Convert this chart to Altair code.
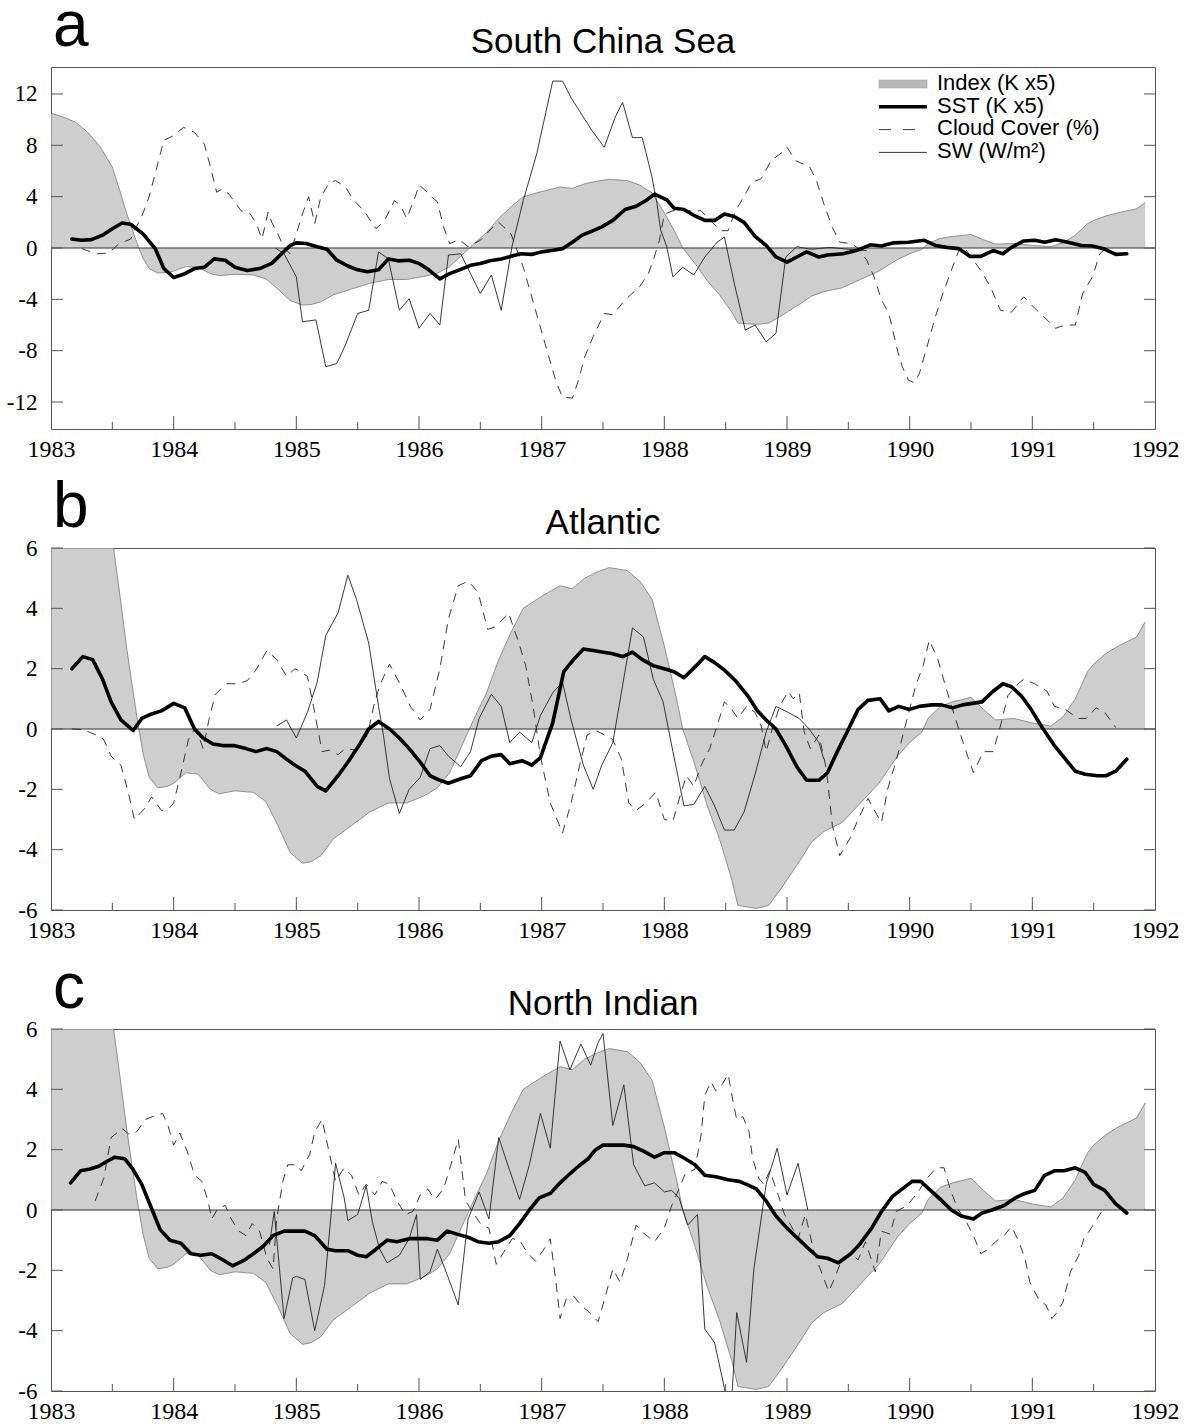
import altair as alt
import pandas as pd

# ---------------- data ----------------
YEARS = [1983, 1984, 1985, 1986, 1987, 1988, 1989, 1990, 1991, 1992]
HALF_YEARS = [1983.5, 1984.5, 1985.5, 1986.5, 1987.5, 1988.5, 1989.5, 1990.5, 1991.5]
TICKS_A = [-12, -8, -4, 0, 4, 8, 12]
TICKS_BC = [-6, -4, -2, 0, 2, 4, 6]

# Index (K x5), the same index is shown in all three panels
INDEX = [(1983.00, 10.5), (1983.10, 10.2), (1983.20, 9.8), (1983.30, 9.0), (1983.40, 7.9),
         (1983.50, 6.3), (1983.55, 4.8), (1983.62, 2.6), (1983.70, 0.4), (1983.75, -0.8),
         (1983.80, -1.6), (1983.87, -1.95), (1983.95, -1.9), (1984.00, -1.8), (1984.10, -1.45),
         (1984.20, -1.5), (1984.30, -2.0), (1984.37, -2.15), (1984.50, -2.05), (1984.65, -2.1),
         (1984.75, -2.4), (1984.85, -3.2), (1984.95, -4.1), (1985.05, -4.45), (1985.12, -4.4),
         (1985.20, -4.2), (1985.30, -3.65), (1985.45, -3.2), (1985.60, -2.75), (1985.75, -2.45),
         (1985.90, -2.45), (1986.05, -2.2), (1986.15, -1.95), (1986.25, -1.45), (1986.35, -0.55),
         (1986.45, 0.35), (1986.55, 1.2), (1986.65, 2.3), (1986.75, 3.2), (1986.85, 4.0),
         (1987.00, 4.4), (1987.15, 4.75), (1987.25, 4.65), (1987.35, 5.0), (1987.45, 5.2),
         (1987.55, 5.35), (1987.70, 5.25), (1987.80, 4.9), (1987.90, 4.3), (1988.00, 2.75),
         (1988.10, 1.0), (1988.15, 0.0), (1988.25, -1.2), (1988.35, -2.55), (1988.45, -3.65),
         (1988.55, -5.0), (1988.60, -5.85), (1988.75, -5.95), (1988.85, -5.85), (1988.95, -5.3),
         (1989.10, -4.4), (1989.20, -3.75), (1989.30, -3.4), (1989.45, -3.1), (1989.60, -2.45),
         (1989.75, -1.8), (1989.90, -0.9), (1990.00, -0.45), (1990.10, -0.1), (1990.15, 0.35),
         (1990.25, 0.75), (1990.35, 0.9), (1990.50, 1.05), (1990.60, 0.65), (1990.70, 0.3),
         (1990.85, 0.35), (1991.00, 0.2), (1991.15, 0.1), (1991.25, 0.4), (1991.35, 1.0),
         (1991.45, 1.9), (1991.50, 2.15), (1991.60, 2.5), (1991.70, 2.75), (1991.85, 3.05),
         (1991.92, 3.55)]

# ---- panel a: South China Sea ----
A_SST = [(1983.17, 0.7), (1983.25, 0.6), (1983.33, 0.65), (1983.42, 1.0), (1983.5, 1.5),
         (1983.58, 1.95), (1983.65, 1.85), (1983.75, 1.1), (1983.85, -0.05), (1983.92, -1.6),
         (1984.0, -2.3), (1984.08, -2.05), (1984.17, -1.6), (1984.25, -1.5), (1984.33, -0.85),
         (1984.42, -0.95), (1984.5, -1.5), (1984.6, -1.75), (1984.7, -1.6), (1984.8, -1.2),
         (1984.88, -0.45), (1984.95, 0.2), (1985.0, 0.4), (1985.08, 0.35), (1985.17, 0.1),
         (1985.25, -0.1), (1985.33, -0.95), (1985.42, -1.4), (1985.5, -1.7), (1985.58, -1.85),
         (1985.67, -1.7), (1985.75, -0.85), (1985.83, -1.0), (1985.92, -0.95), (1986.0, -1.2),
         (1986.08, -1.7), (1986.17, -2.4), (1986.25, -2.0), (1986.33, -1.7), (1986.42, -1.35),
         (1986.5, -1.2), (1986.58, -1.0), (1986.67, -0.85), (1986.75, -0.65), (1986.83, -0.45),
         (1986.92, -0.5), (1987.0, -0.3), (1987.08, -0.2), (1987.17, -0.05), (1987.25, 0.45),
         (1987.33, 1.0), (1987.42, 1.35), (1987.49, 1.65), (1987.58, 2.15), (1987.68, 3.0),
         (1987.77, 3.25), (1987.85, 3.7), (1987.92, 4.2), (1988.02, 3.75), (1988.08, 3.1),
         (1988.16, 3.0), (1988.24, 2.55), (1988.33, 2.15), (1988.41, 2.15), (1988.49, 2.65),
         (1988.57, 2.45), (1988.65, 2.0), (1988.74, 0.9), (1988.83, 0.2), (1988.91, -0.7),
         (1989.0, -1.1), (1989.08, -0.7), (1989.16, -0.3), (1989.26, -0.7), (1989.33, -0.55),
         (1989.46, -0.45), (1989.58, -0.15), (1989.68, 0.25), (1989.77, 0.15), (1989.87, 0.4),
         (1989.99, 0.45), (1990.12, 0.6), (1990.21, 0.2), (1990.30, 0.05), (1990.40, -0.05),
         (1990.49, -0.65), (1990.58, -0.65), (1990.68, -0.2), (1990.76, -0.45), (1990.83, 0.05),
         (1990.93, 0.55), (1991.02, 0.6), (1991.10, 0.45), (1991.19, 0.65), (1991.29, 0.45),
         (1991.40, 0.2), (1991.49, 0.15), (1991.58, -0.05), (1991.68, -0.5), (1991.77, -0.45)]

A_CLOUD = [(1983.25, -0.05), (1983.37, -0.45), (1983.47, -0.4), (1983.55, 0.3), (1983.65, 0.7),
           (1983.75, 2.7), (1983.8, 4.0), (1983.87, 6.55), (1983.92, 8.4), (1984.0, 8.75),
           (1984.08, 9.4), (1984.17, 9.0), (1984.25, 8.1), (1984.3, 6.3), (1984.35, 4.35),
           (1984.4, 4.6), (1984.45, 4.2), (1984.55, 2.9), (1984.62, 2.7), (1984.67, 2.0),
           (1984.72, 0.7), (1984.77, 2.8), (1984.8, 2.0), (1984.85, 1.1), (1984.9, 0.0),
           (1984.95, -0.45), (1985.05, 2.65), (1985.1, 4.0), (1985.15, 1.9), (1985.2, 4.0),
           (1985.27, 5.1), (1985.32, 5.25), (1985.4, 4.75), (1985.47, 3.7), (1985.55, 2.9),
           (1985.65, 1.5), (1985.72, 2.15), (1985.8, 3.7), (1985.85, 3.3), (1985.9, 2.3),
           (1985.97, 4.0), (1986.0, 4.9), (1986.05, 4.5), (1986.1, 4.0), (1986.15, 3.6),
           (1986.2, 1.65), (1986.25, 0.35), (1986.33, 0.65), (1986.4, 0.1), (1986.5, 0.6),
           (1986.6, 1.6), (1986.65, 2.0), (1986.75, 1.1), (1986.85, -1.5), (1986.95, -4.85),
           (1987.05, -8.2), (1987.12, -10.5), (1987.17, -11.6), (1987.25, -11.7), (1987.3, -10.3),
           (1987.35, -8.5), (1987.42, -6.9), (1987.51, -5.1), (1987.58, -5.2), (1987.68, -4.05),
           (1987.8, -3.0), (1987.87, -2.0), (1987.91, -0.95), (1987.96, 0.6), (1988.0, 2.65),
           (1988.07, 2.9), (1988.18, 2.9), (1988.3, 2.9), (1988.4, 1.9), (1988.46, 1.35),
           (1988.52, 1.35), (1988.58, 2.9), (1988.65, 4.0), (1988.71, 5.1), (1988.79, 5.4),
           (1988.87, 6.8), (1988.96, 7.45), (1989.0, 7.85), (1989.07, 6.8), (1989.13, 6.55),
           (1989.18, 6.4), (1989.24, 5.25), (1989.3, 3.45), (1989.37, 1.6), (1989.43, 0.45),
           (1989.52, 0.35), (1989.58, 0.0), (1989.65, -0.95), (1989.71, -2.25), (1989.77, -4.05),
           (1989.83, -5.1), (1989.9, -7.95), (1989.94, -9.25), (1989.99, -10.3), (1990.04, -10.5),
           (1990.08, -9.75), (1990.15, -7.4), (1990.21, -5.35), (1990.27, -3.55), (1990.33, -2.0),
           (1990.4, -0.2), (1990.44, 0.1), (1990.52, -0.95), (1990.58, -1.75), (1990.66, -3.05),
           (1990.74, -4.85), (1990.83, -5.0), (1990.93, -3.8), (1991.02, -4.7), (1991.12, -5.6),
           (1991.19, -6.25), (1991.27, -6.0), (1991.35, -6.0), (1991.41, -3.55), (1991.49, -2.25),
           (1991.55, -0.45), (1991.6, 0.0)]

A_SW = [(1984.83, 0.0), (1984.9, -0.45), (1985.0, -2.25), (1985.05, -5.75), (1985.16, -5.6),
        (1985.24, -9.25), (1985.33, -9.0), (1985.4, -7.55), (1985.5, -5.1), (1985.59, -4.85),
        (1985.67, -0.3), (1985.75, -0.85), (1985.84, -4.85), (1985.92, -3.95), (1986.0, -6.25),
        (1986.09, -5.1), (1986.17, -6.0), (1986.24, -0.55), (1986.34, -0.45), (1986.5, -3.55),
        (1986.59, -2.1), (1986.67, -4.85), (1986.76, 0.2), (1986.85, 3.7), (1986.96, 7.35),
        (1987.09, 13.0), (1987.17, 13.0), (1987.24, 11.7), (1987.34, 10.2), (1987.41, 9.15),
        (1987.51, 7.85), (1987.6, 10.2), (1987.66, 11.35), (1987.74, 8.6), (1987.82, 8.6),
        (1987.9, 5.5), (1987.94, 3.45), (1987.97, 1.4), (1988.02, 0.1), (1988.07, -2.25),
        (1988.15, -1.5), (1988.24, -2.1), (1988.33, -0.7), (1988.43, 0.45), (1988.49, 0.85),
        (1988.57, -2.75), (1988.66, -6.4), (1988.74, -6.0), (1988.83, -7.3), (1988.91, -6.65),
        (1988.99, -0.7), (1989.08, 0.1), (1989.2, -0.1), (1989.35, 0.05), (1989.5, -0.1),
        (1989.65, -0.2)]

# ---- panel b: Atlantic ----
B_SST = [(1983.17, 2.0), (1983.26, 2.4), (1983.34, 2.3), (1983.42, 1.65), (1983.49, 0.9),
         (1983.57, 0.3), (1983.67, -0.05), (1983.74, 0.35), (1983.82, 0.5), (1983.9, 0.6),
         (1984.0, 0.85), (1984.09, 0.7), (1984.17, 0.0), (1984.24, -0.3), (1984.32, -0.5),
         (1984.4, -0.55), (1984.49, -0.55), (1984.59, -0.65), (1984.67, -0.75), (1984.76, -0.65),
         (1984.84, -0.75), (1984.92, -1.0), (1984.99, -1.2), (1985.07, -1.4), (1985.17, -1.9),
         (1985.24, -2.05), (1985.34, -1.55), (1985.42, -1.1), (1985.51, -0.55), (1985.59, 0.0),
         (1985.67, 0.25), (1985.76, 0.0), (1985.84, -0.3), (1985.92, -0.65), (1986.01, -1.1),
         (1986.09, -1.55), (1986.17, -1.7), (1986.24, -1.8), (1986.34, -1.65), (1986.42, -1.55),
         (1986.51, -1.05), (1986.59, -0.9), (1986.67, -0.85), (1986.74, -1.15), (1986.84, -1.05),
         (1986.92, -1.2), (1986.99, -0.95), (1987.09, 0.2), (1987.18, 1.9), (1987.26, 2.3),
         (1987.34, 2.65), (1987.42, 2.6), (1987.49, 2.55), (1987.57, 2.5), (1987.66, 2.4),
         (1987.74, 2.55), (1987.82, 2.3), (1987.91, 2.1), (1988.0, 2.0), (1988.08, 1.9),
         (1988.16, 1.7), (1988.26, 2.1), (1988.33, 2.4), (1988.41, 2.2), (1988.49, 1.95),
         (1988.58, 1.6), (1988.68, 1.1), (1988.76, 0.6), (1988.83, 0.3), (1988.91, 0.0),
         (1988.99, -0.55), (1989.08, -1.25), (1989.16, -1.7), (1989.26, -1.7), (1989.33, -1.45),
         (1989.41, -0.75), (1989.49, -0.1), (1989.58, 0.65), (1989.66, 0.95), (1989.76, 1.0),
         (1989.83, 0.6), (1989.91, 0.75), (1990.0, 0.65), (1990.08, 0.75), (1990.18, 0.8),
         (1990.26, 0.8), (1990.35, 0.7), (1990.43, 0.8), (1990.51, 0.85), (1990.59, 0.9),
         (1990.68, 1.25), (1990.76, 1.5), (1990.83, 1.4), (1990.91, 1.1), (1990.99, 0.65),
         (1991.08, 0.05), (1991.18, -0.55), (1991.26, -0.95), (1991.35, -1.4), (1991.43, -1.5),
         (1991.53, -1.55), (1991.6, -1.55), (1991.68, -1.4), (1991.77, -1.0)]

B_CLOUD = [(1983.17, 0.0), (1983.26, -0.02), (1983.37, -0.2), (1983.43, -0.35), (1983.49, -0.9),
           (1983.57, -1.2), (1983.63, -2.1), (1983.68, -3.0), (1983.76, -2.65), (1983.82, -2.25),
           (1983.9, -2.7), (1983.96, -2.65), (1984.0, -2.45), (1984.06, -1.45), (1984.12, -0.35),
           (1984.17, 0.0), (1984.21, -0.3), (1984.24, -0.65), (1984.29, 0.35), (1984.34, 1.15),
           (1984.43, 1.5), (1984.52, 1.5), (1984.6, 1.6), (1984.67, 1.95), (1984.76, 2.6),
           (1984.84, 2.3), (1984.92, 1.75), (1984.99, 2.0), (1985.09, 1.75), (1985.14, 0.75),
           (1985.21, -0.75), (1985.27, -0.7), (1985.34, -0.85), (1985.4, -0.65), (1985.49, -0.7),
           (1985.58, -0.2), (1985.63, 0.75), (1985.68, 1.45), (1985.76, 2.15), (1985.85, 1.45),
           (1985.93, 0.75), (1986.01, 0.3), (1986.09, 0.65), (1986.17, 2.0), (1986.24, 3.65),
           (1986.32, 4.75), (1986.4, 4.9), (1986.48, 4.55), (1986.56, 3.3), (1986.63, 3.4),
           (1986.73, 3.85), (1986.81, 2.9), (1986.87, 2.1), (1986.93, 0.75), (1986.99, -0.9),
           (1987.07, -2.45), (1987.17, -3.45), (1987.24, -2.45), (1987.31, -1.2), (1987.37, -0.2),
           (1987.44, -0.05), (1987.49, -0.15), (1987.58, -0.35), (1987.65, -1.0), (1987.71, -2.45),
           (1987.77, -2.7), (1987.85, -2.45), (1987.93, -2.1), (1988.0, -3.0), (1988.07, -3.05),
           (1988.13, -2.2), (1988.18, -1.55), (1988.24, -1.9), (1988.3, -1.2), (1988.37, -0.65),
           (1988.43, 0.1), (1988.49, 0.9), (1988.55, 0.65), (1988.6, 0.35), (1988.67, 0.75),
           (1988.74, 0.55), (1988.79, 0.1), (1988.83, -0.75), (1988.88, 0.0), (1988.94, 0.75),
           (1989.01, 1.25), (1989.05, 1.0), (1989.1, 1.2), (1989.14, -0.1), (1989.19, -0.65),
           (1989.26, -0.2), (1989.32, -1.3), (1989.37, -3.2), (1989.43, -4.2), (1989.51, -3.65),
           (1989.58, -3.0), (1989.66, -2.3), (1989.72, -2.75), (1989.77, -3.1), (1989.82, -2.0),
           (1989.9, -0.9), (1989.98, 0.35), (1990.05, 1.45), (1990.11, 2.1), (1990.16, 2.95),
           (1990.23, 2.3), (1990.29, 1.45), (1990.35, 0.65), (1990.4, 0.0), (1990.46, -0.75),
           (1990.52, -1.45), (1990.6, -0.75), (1990.68, -0.75), (1990.74, 0.1), (1990.8, 1.1),
           (1990.87, 1.45), (1990.93, 1.65), (1991.02, 1.5), (1991.12, 1.25), (1991.18, 0.75),
           (1991.27, 0.65), (1991.37, 0.35), (1991.44, 0.35), (1991.52, 0.7), (1991.59, 0.55),
           (1991.68, 0.05)]

B_SW = [(1984.84, 0.1), (1984.92, 0.3), (1985.0, -0.3), (1985.09, 0.55), (1985.17, 1.55),
        (1985.24, 3.1), (1985.34, 3.85), (1985.42, 5.1), (1985.49, 4.3), (1985.59, 2.85),
        (1985.67, 0.75), (1985.71, -0.2), (1985.76, -1.65), (1985.84, -2.8), (1985.92, -2.0),
        (1986.01, -1.6), (1986.09, -0.65), (1986.17, -0.55), (1986.24, -0.9), (1986.34, -1.25),
        (1986.42, -0.75), (1986.49, 0.35), (1986.59, 1.15), (1986.67, 0.75), (1986.74, -0.45),
        (1986.82, -0.1), (1986.92, -0.45), (1986.99, 0.45), (1987.09, 1.2), (1987.17, 1.55),
        (1987.24, 0.3), (1987.34, -1.2), (1987.42, -2.0), (1987.49, -1.2), (1987.58, -0.45),
        (1987.66, 1.45), (1987.74, 3.35), (1987.83, 3.05), (1987.91, 1.65), (1987.99, 0.9),
        (1988.07, -0.75), (1988.16, -2.55), (1988.24, -2.5), (1988.33, -1.9), (1988.41, -2.55),
        (1988.49, -3.35), (1988.57, -3.35), (1988.65, -2.75), (1988.74, -1.5), (1988.83, -0.1),
        (1988.91, 0.75), (1989.01, 0.55), (1989.1, 0.35), (1989.18, 0.0), (1989.26, -0.45),
        (1989.3, -1.0)]

# ---- panel c: North Indian ----
C_SST = [(1983.16, 0.9), (1983.24, 1.3), (1983.31, 1.35), (1983.39, 1.45), (1983.45, 1.6),
         (1983.52, 1.75), (1983.6, 1.7), (1983.66, 1.4), (1983.74, 0.85), (1983.81, 0.15),
         (1983.89, -0.65), (1983.97, -1.0), (1984.06, -1.1), (1984.14, -1.45), (1984.22, -1.5),
         (1984.31, -1.45), (1984.4, -1.65), (1984.48, -1.85), (1984.58, -1.65), (1984.65, -1.45),
         (1984.73, -1.2), (1984.81, -0.85), (1984.9, -0.7), (1985.0, -0.7), (1985.07, -0.7),
         (1985.15, -0.85), (1985.25, -1.3), (1985.32, -1.35), (1985.42, -1.35), (1985.5, -1.5),
         (1985.57, -1.55), (1985.65, -1.3), (1985.74, -1.0), (1985.82, -1.05), (1985.92, -0.95),
         (1985.99, -0.95), (1986.07, -0.95), (1986.15, -1.0), (1986.23, -0.7), (1986.31, -0.8),
         (1986.4, -0.9), (1986.48, -1.05), (1986.57, -1.1), (1986.65, -1.05), (1986.74, -0.85),
         (1986.82, -0.45), (1986.9, 0.0), (1986.98, 0.4), (1987.07, 0.55), (1987.15, 0.9),
         (1987.23, 1.2), (1987.3, 1.45), (1987.38, 1.7), (1987.44, 2.0), (1987.5, 2.15),
         (1987.58, 2.15), (1987.67, 2.15), (1987.75, 2.1), (1987.83, 1.95), (1987.92, 1.75),
         (1988.0, 1.9), (1988.08, 1.9), (1988.17, 1.7), (1988.25, 1.5), (1988.33, 1.15),
         (1988.42, 1.1), (1988.52, 1.0), (1988.61, 0.95), (1988.67, 0.85), (1988.75, 0.7),
         (1988.83, 0.3), (1988.91, -0.2), (1989.0, -0.6), (1989.09, -0.95), (1989.18, -1.3),
         (1989.25, -1.55), (1989.33, -1.6), (1989.42, -1.75), (1989.52, -1.45), (1989.59, -1.15),
         (1989.69, -0.6), (1989.77, -0.05), (1989.86, 0.45), (1989.94, 0.7), (1990.02, 0.95),
         (1990.09, 0.95), (1990.17, 0.65), (1990.25, 0.35), (1990.34, 0.0), (1990.42, -0.2),
         (1990.52, -0.3), (1990.59, -0.1), (1990.67, 0.0), (1990.77, 0.15), (1990.86, 0.4),
         (1990.94, 0.55), (1991.02, 0.65), (1991.1, 1.15), (1991.18, 1.3), (1991.26, 1.3),
         (1991.35, 1.4), (1991.43, 1.25), (1991.5, 0.85), (1991.59, 0.65), (1991.68, 0.2),
         (1991.77, -0.1)]

C_CLOUD = [(1983.36, 0.3), (1983.43, 1.05), (1983.49, 2.4), (1983.58, 2.7), (1983.64, 2.5),
           (1983.7, 2.6), (1983.77, 3.0), (1983.83, 3.1), (1983.91, 3.2), (1983.95, 2.85),
           (1984.0, 2.15), (1984.05, 2.55), (1984.11, 1.95), (1984.17, 1.15), (1984.23, 0.95),
           (1984.28, 0.3), (1984.31, -0.3), (1984.36, 0.05), (1984.42, 0.15), (1984.47, -0.3),
           (1984.53, -0.7), (1984.59, -0.85), (1984.64, -0.45), (1984.7, -0.7), (1984.76, -1.6),
           (1984.81, -1.95), (1984.84, -0.3), (1984.89, 0.95), (1984.93, 1.5), (1985.0, 1.5),
           (1985.04, 1.3), (1985.11, 1.85), (1985.15, 2.6), (1985.21, 3.0), (1985.26, 2.05),
           (1985.32, 0.95), (1985.39, 1.4), (1985.45, 1.15), (1985.51, 0.5), (1985.57, 0.85),
           (1985.64, 0.5), (1985.7, 0.95), (1985.76, 0.85), (1985.82, 0.3), (1985.89, -0.15),
           (1985.95, -0.05), (1986.01, 0.5), (1986.07, 0.7), (1986.13, 0.35), (1986.2, 0.7),
           (1986.26, 1.5), (1986.32, 2.35), (1986.38, 0.3), (1986.45, -0.15), (1986.51, -0.5),
           (1986.57, -0.6), (1986.63, -1.8), (1986.69, -1.4), (1986.76, -0.95), (1986.82, -1.0),
           (1986.88, -1.4), (1986.95, -1.7), (1987.01, -1.35), (1987.07, -0.95), (1987.12, -2.5),
           (1987.15, -3.6), (1987.2, -2.95), (1987.26, -2.85), (1987.32, -3.15), (1987.39, -3.4),
           (1987.46, -3.7), (1987.52, -2.85), (1987.58, -1.95), (1987.64, -2.4), (1987.7, -1.6),
           (1987.77, -0.5), (1987.84, -0.8), (1987.92, -1.05), (1988.0, -0.6), (1988.06, 0.15),
           (1988.12, 0.7), (1988.17, 1.2), (1988.25, 1.35), (1988.3, 2.5), (1988.33, 3.8),
           (1988.38, 4.25), (1988.42, 3.95), (1988.47, 4.15), (1988.52, 4.5), (1988.56, 3.6),
           (1988.59, 3.0), (1988.64, 3.1), (1988.69, 2.6), (1988.72, 1.7), (1988.77, 1.05),
           (1988.81, 0.85), (1988.86, 1.3), (1988.92, 0.6), (1988.98, -0.15), (1989.03, -0.5),
           (1989.09, -0.95), (1989.15, -0.15), (1989.22, -1.4), (1989.28, -2.05), (1989.34, -2.7),
           (1989.39, -2.25), (1989.45, -1.6), (1989.52, -1.45), (1989.58, -1.65), (1989.64, -1.05),
           (1989.72, -2.05), (1989.77, -0.7), (1989.84, -0.8), (1989.89, -0.05), (1989.98, 0.15),
           (1990.07, 0.6), (1990.14, 1.05), (1990.22, 1.4), (1990.28, 1.4), (1990.33, 0.7),
           (1990.39, 0.05), (1990.45, -0.3), (1990.52, -0.85), (1990.58, -1.45), (1990.64, -1.3),
           (1990.7, -1.05), (1990.77, -0.85), (1990.83, -0.55), (1990.89, -1.05), (1990.94, -1.6),
           (1990.98, -2.4), (1991.05, -2.95), (1991.11, -3.15), (1991.16, -3.6), (1991.2, -3.4),
           (1991.25, -3.05), (1991.31, -2.05), (1991.38, -1.5), (1991.42, -0.95), (1991.48, -0.6),
           (1991.55, -0.15), (1991.6, 0.15)]

C_SW = [(1984.78, -1.15), (1984.82, -0.05), (1984.9, -3.6), (1984.97, -2.25), (1985.0, -2.2),
        (1985.07, -2.3), (1985.15, -4.0), (1985.23, -2.5), (1985.28, -0.3), (1985.32, 1.55),
        (1985.39, 0.4), (1985.42, -0.35), (1985.5, -0.15), (1985.57, 0.8), (1985.62, -0.4),
        (1985.68, -1.3), (1985.74, -1.75), (1985.84, -1.5), (1985.92, -0.95), (1985.98, -0.15),
        (1986.01, -2.3), (1986.09, -2.05), (1986.15, -1.3), (1986.23, -2.15), (1986.32, -3.15),
        (1986.4, -0.3), (1986.49, 0.6), (1986.57, -0.3), (1986.65, 2.4), (1986.74, 1.3),
        (1986.82, 0.35), (1986.9, 1.5), (1986.99, 3.2), (1987.07, 2.05), (1987.15, 5.6),
        (1987.23, 4.65), (1987.32, 5.5), (1987.4, 4.8), (1987.46, 5.55), (1987.5, 5.85),
        (1987.58, 2.8), (1987.67, 4.15), (1987.75, 1.5), (1987.84, 0.8), (1987.92, 0.9),
        (1988.0, 0.6), (1988.06, 0.65), (1988.12, 0.4), (1988.19, -0.5), (1988.27, -0.15),
        (1988.33, -3.95), (1988.41, -4.4), (1988.5, -6.1), (1988.55, -6.25), (1988.59, -3.4),
        (1988.67, -5.05), (1988.73, -1.95), (1988.83, 0.85), (1988.92, 2.05), (1989.0, 0.5),
        (1989.09, 1.55), (1989.17, 0.0)]

LEGEND_LABELS = ["Index (K x5)", "SST (K x5)", "Cloud Cover (%)", "SW (W/m²)"]

# ---------------- styling ----------------
W, H = 1104, 362
SANS = "Liberation Sans"
SERIF = "Liberation Serif"
FILL = "#b9b9b9"
FRAME = "#555555"


def frame(pairs):
    return pd.DataFrame(pairs, columns=["t", "v"])


ONE = pd.DataFrame({"k": [0]})


def panel(sst, cloud, sw, ydom, yticks, letter, title, legend=False):
    xs = alt.Scale(domain=[1983, 1992], nice=False, zero=False)
    ys = alt.Scale(domain=ydom, nice=False, zero=False)

    area = alt.Chart(frame(INDEX)).mark_area(
        fill=FILL, clip=True, line={"color": "#7a7a7a", "strokeWidth": 0.8}
    ).encode(
        x=alt.X("t:Q", scale=xs, axis=alt.Axis(
            values=YEARS, labelExpr="'' + datum.value", ticks=False, tickSize=0,
            domain=False, grid=False, title=None, labelFont=SERIF, labelFontSize=24,
            labelColor="black", labelPadding=8, labelFlush=False)),
        y=alt.Y("v:Q", scale=ys, axis=alt.Axis(
            values=yticks, labelExpr="'' + datum.value", ticks=False, tickSize=0,
            domain=False, grid=False, title=None, labelFont=SERIF, labelFontSize=23,
            labelColor="black", labelPadding=14)),
        y2=alt.datum(0),
    )

    zero = alt.Chart(ONE).mark_rule(color="#333333", strokeWidth=1).encode(y=alt.datum(0))

    cld = alt.Chart(frame(cloud)).mark_line(
        color="#222222", strokeWidth=0.9, strokeDash=[9, 7], clip=True
    ).encode(x="t:Q", y="v:Q")
    swl = alt.Chart(frame(sw)).mark_line(
        color="#222222", strokeWidth=0.9, clip=True
    ).encode(x="t:Q", y="v:Q")
    sstl = alt.Chart(frame(sst)).mark_line(
        color="black", strokeWidth=3.6, clip=True, strokeJoin="round", strokeCap="round"
    ).encode(x="t:Q", y="v:Q")

    ytk = pd.DataFrame({"v": yticks})
    left_ticks = alt.Chart(ytk).mark_rule(color=FRAME, strokeWidth=1).encode(
        y="v:Q", x=alt.value(0), x2=alt.value(12))
    right_ticks = alt.Chart(ytk).mark_rule(color=FRAME, strokeWidth=1).encode(
        y="v:Q", x=alt.value(W - 11), x2=alt.value(W))
    major = alt.Chart(pd.DataFrame({"t": YEARS[1:-1]})).mark_rule(
        color=FRAME, strokeWidth=1).encode(x="t:Q", y=alt.value(H), y2=alt.value(H - 13))
    minor = alt.Chart(pd.DataFrame({"t": HALF_YEARS})).mark_rule(
        color=FRAME, strokeWidth=1).encode(x="t:Q", y=alt.value(H), y2=alt.value(H - 7))

    letter_t = alt.Chart(ONE).mark_text(
        text=letter, font=SANS, fontSize=64, align="left", baseline="alphabetic", color="black"
    ).encode(x=alt.value(2), y=alt.value(-21.5))
    title_t = alt.Chart(ONE).mark_text(
        text=title, font=SANS, fontSize=35, align="center", baseline="alphabetic", color="black"
    ).encode(x=alt.value(W / 2), y=alt.value(-14.5))

    layers = [area, zero, cld, swl, sstl, left_ticks, right_ticks, major, minor, letter_t, title_t]

    if legend:
        sx0, sx1, tx = 828, 876, 886
        base_text, base_sw, step = 22.7, 17.0, 22.8
        layers.append(alt.Chart(ONE).mark_rect(fill=FILL, stroke="#9a9a9a", strokeWidth=0.5).encode(
            x=alt.value(sx0), x2=alt.value(sx1),
            y=alt.value(base_sw - 4), y2=alt.value(base_sw + 4)))
        layers.append(alt.Chart(ONE).mark_rule(color="black", strokeWidth=3.6).encode(
            x=alt.value(sx0), x2=alt.value(sx1), y=alt.value(base_sw + step)))
        layers.append(alt.Chart(ONE).mark_rule(color="#222222", strokeWidth=0.9, strokeDash=[12, 12]).encode(
            x=alt.value(sx0), x2=alt.value(sx1), y=alt.value(base_sw + 2 * step)))
        layers.append(alt.Chart(ONE).mark_rule(color="#222222", strokeWidth=0.9).encode(
            x=alt.value(sx0), x2=alt.value(sx1), y=alt.value(base_sw + 3 * step)))
        for i, lab in enumerate(LEGEND_LABELS):
            layers.append(alt.Chart(pd.DataFrame({"label": [lab]})).mark_text(
                font=SANS, fontSize=22, align="left", baseline="alphabetic", color="black"
            ).encode(x=alt.value(tx), y=alt.value(base_text + i * step), text="label:N"))

    return alt.layer(*layers).properties(width=W, height=H)


pa = panel(A_SST, A_CLOUD, A_SW, [-14.1, 14.1], TICKS_A, "a", "South China Sea", legend=True)
pb = panel(B_SST, B_CLOUD, B_SW, [-6, 6], TICKS_BC, "b", "Atlantic")
pc = panel(C_SST, C_CLOUD, C_SW, [-6, 6], TICKS_BC, "c", "North Indian")

chart = alt.vconcat(pa, pb, pc, spacing=119, bounds="flush").properties(
    padding={"left": 5, "top": -6, "right": 5, "bottom": 5},
).configure_view(stroke=FRAME, strokeWidth=1)

chart.save("out.html", embed_options={"renderer": "svg", "actions": False})
